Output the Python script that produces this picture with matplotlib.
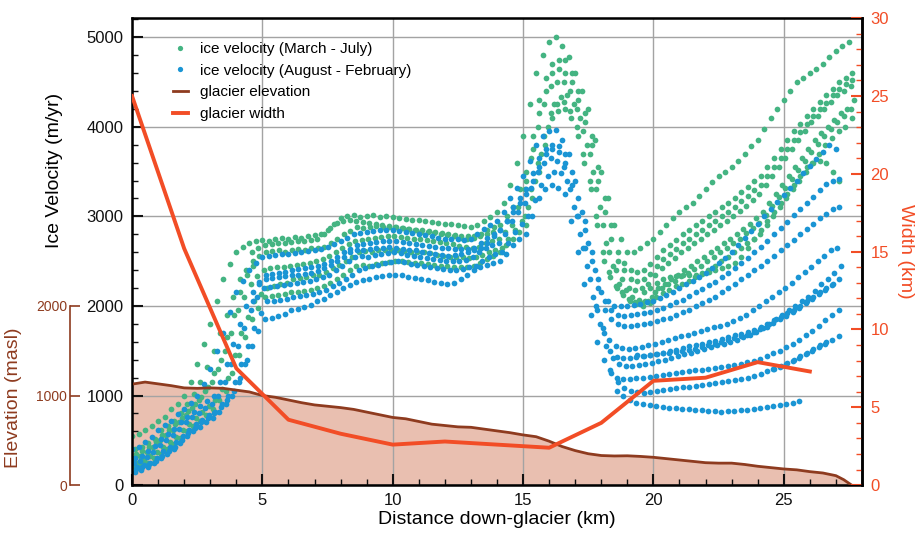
import numpy as np
import matplotlib
matplotlib.use('Agg')
import matplotlib.pyplot as plt
from matplotlib.ticker import MultipleLocator
from matplotlib.lines import Line2D

plt.rcParams['font.family'] = ['Liberation Sans', 'DejaVu Sans']

# ---- data -------------------------------------------------------------
# velocity tracks: values (m/yr) every 0.25 km, from the given start km
STEP = 0.25

spring_starts = [0.0, 0.125, 0.06, 0.19, 0.1, 19.625, 4.6, 15.125, 15.06, 0.15]
spring_1 = [550, 570, 620, 660, 720, 760, 850, 900, 1000, 1150,
            1350, 1580, 1800, 2050, 2300, 2470, 2600, 2660, 2700, 2720,
            2740, 2730, 2750, 2760, 2750, 2770, 2760, 2780, 2790, 2800,
            2850, 2920, 2980, 3000, 3010, 2990, 3000, 3010, 2990, 3000,
            2990, 2980, 2970, 2960, 2960, 2950, 2940, 2930, 2920, 2910,
            2900, 2890, 2880, 2900, 2950, 2990, 3050, 3150, 3350, 3600,
            3900, 4250, 4600, 4800, 4950, 5000, 4900, 4780, 4600, 4400,
            4200, 3850, 3500, 3200, 2900, 2750, 2600, 2600, 2650, 2700,
            2750, 2820, 2900, 2980, 3050, 3100, 3150, 3230, 3300, 3380,
            3450, 3500, 3550, 3620, 3700, 3780, 3850, 3980, 4100, 4200,
            4300, 4400, 4500, 4550, 4600, 4650, 4700, 4780, 4850, 4900,
            4950]
spring_2 = [400, 430, 470, 520, 620, 660, 720, 800, 900, 1020,
            1150, 1320, 1500, 1700, 1900, 2100, 2300, 2400, 2500, 2560,
            2600, 2610, 2620, 2600, 2620, 2640, 2630, 2650, 2650, 2660,
            2700, 2750, 2800, 2840, 2880, 2870, 2880, 2890, 2880, 2880,
            2880, 2870, 2860, 2850, 2850, 2840, 2820, 2810, 2800, 2790,
            2780, 2780, 2780, 2800, 2850, 2880, 2900, 3000, 3100, 3300,
            3500, 3900, 4300, 4550, 4700, 4750, 4750, 4600, 4400, 4150,
            3900, 3550, 3200, 2900, 2600, 2480, 2400, 2380, 2400, 2470,
            2550, 2620, 2680, 2740, 2800, 2850, 2900, 2950, 3000, 3050,
            3100, 3150, 3200, 3270, 3330, 3400, 3450, 3550, 3650, 3750,
            3850, 3950, 4030, 4120, 4200, 4280, 4350, 4420, 4500, 4550,
            4600]
spring_3 = [300, 330, 370, 430, 500, 560, 620, 700, 780, 860,
            950, 1050, 1150, 1300, 1500, 1700, 1950, 2100, 2250, 2330,
            2400, 2420, 2430, 2440, 2450, 2460, 2470, 2480, 2500, 2520,
            2560, 2600, 2650, 2690, 2730, 2740, 2750, 2760, 2770, 2780,
            2780, 2770, 2760, 2750, 2750, 2740, 2720, 2710, 2700, 2690,
            2670, 2660, 2650, 2660, 2700, 2730, 2750, 2820, 2900, 3100,
            3300, 3650, 4000, 4250, 4450, 4500, 4500, 4400, 4200, 3950,
            3700, 3300, 2900, 2600, 2400, 2300, 2200, 2180, 2200, 2250,
            2350, 2420, 2480, 2540, 2600, 2650, 2700, 2750, 2800, 2850,
            2900, 2950, 3000, 3060, 3120, 3180, 3250, 3350, 3450, 3550,
            3650, 3750, 3850, 3950, 4050, 4120, 4200, 4280, 4350, 4400,
            4450]
spring_4 = [250, 280, 320, 370, 420, 480, 540, 610, 680, 750,
            820, 880, 950, 1070, 1200, 1450, 1700, 1880, 2050, 2130,
            2200, 2220, 2240, 2260, 2300, 2310, 2320, 2340, 2350, 2380,
            2420, 2460, 2500, 2550, 2600, 2610, 2600, 2620, 2620, 2620,
            2620, 2610, 2600, 2600, 2600, 2590, 2570, 2560, 2550, 2550,
            2550, 2540, 2550, 2570, 2600, 2620, 2650, 2750, 2850, 2950,
            3100, 3400, 3700, 4000, 4250, 4330, 4350, 4250, 4100, 3800,
            3500, 3100, 2700, 2450, 2250, 2180, 2100, 2070, 2050, 2100,
            2200, 2250, 2300, 2350, 2400, 2450, 2500, 2550, 2600, 2650,
            2700, 2750, 2800, 2860, 2920, 2980, 3050, 3150, 3250, 3350,
            3450, 3550, 3650, 3750, 3850, 3930, 4000, 4080, 4150, 4200,
            4300]
spring_5 = [200, 220, 250, 300, 350, 400, 460, 530, 600, 660,
            720, 780, 850, 950, 1050, 1250, 1450, 1650, 1850, 1980,
            2100, 2110, 2120, 2130, 2150, 2160, 2170, 2180, 2200, 2220,
            2260, 2300, 2350, 2400, 2450, 2460, 2450, 2470, 2480, 2490,
            2500, 2500, 2490, 2480, 2480, 2470, 2460, 2450, 2450, 2440,
            2440, 2440, 2450, 2480, 2520, 2560, 2600, 2680, 2750, 2820,
            2900, 3200, 3500, 3800, 4100, 4180, 4200, 4100, 3900, 3600,
            3300, 2900, 2500, 2320, 2200, 2120, 2050, 2020, 2000, 2030,
            2100, 2140, 2180, 2220, 2250, 2280, 2320, 2360, 2400, 2450,
            2500, 2550, 2600, 2650, 2700, 2750, 2800, 2900, 3000, 3100,
            3200, 3300, 3400, 3500, 3600, 3700, 3800, 3880, 3950, 4000,
            4100]
spring_6 = [2150, 2200, 2260, 2300, 2320, 2330, 2340, 2350, 2350, 2370,
            2380, 2400, 2420, 2450, 2480, 2550, 2650, 2750, 2850, 2950,
            3050, 3150, 3250, 3350, 3450, 3550, 3600, 3620, 3600, 3500,
            3400]
spring_7 = [2600, 2650, 2680, 2690, 2700, 2700, 2710, 2720, 2730, 2740,
            2750, 2800, 2870, 2930, 2950, 2960, 2950, 2940, 2930, 2920,
            2900, 2890, 2880, 2870, 2860, 2850, 2830, 2820, 2810, 2800,
            2790, 2780, 2760, 2750, 2760, 2780, 2800, 2830]
spring_8 = [3400, 3750, 4150, 4400, 4600, 4650, 4600, 4500, 4300, 4050,
            3800, 3400, 3050, 2750, 2500, 2400, 2300, 2280, 2300, 2360,
            2450, 2520, 2580, 2640, 2700, 2750, 2800, 2850, 2900, 2950,
            3000, 3050, 3100, 3170, 3230, 3290, 3350, 3450, 3550, 3650,
            3750, 3850, 3940, 4030, 4120, 4200, 4270, 4350, 4420, 4480,
            4520]
spring_9 = [3000, 3300, 3600, 3900, 4150, 4250, 4280, 4180, 4000, 3700,
            3400, 3000, 2600, 2380, 2220, 2150, 2080, 2040, 2030, 2060,
            2150, 2200, 2240, 2280, 2330, 2370, 2410, 2450, 2500, 2550,
            2600, 2650, 2700, 2750, 2810, 2870, 2930, 3020, 3120, 3220,
            3320, 3420, 3520, 3620, 3720, 3810, 3900, 3980, 4050, 4120,
            4200]
spring_10 = [350, 380, 420, 480, 560, 610, 680, 750, 830, 900,
             980, 1100, 1250, 1400, 1650, 1900, 2150, 2350, 2450]

autumn_starts = [0.0, 0.125, 0.06, 0.19, 0.1, 18.6, 18.375, 4.625, 19.375,
                 17.375, 17.85, 0.15, 24.6]
autumn_1 = [400, 430, 480, 540, 620, 670, 720, 790, 850, 920,
            1000, 1130, 1300, 1500, 1700, 1930, 2150, 2280, 2400, 2480,
            2550, 2560, 2570, 2580, 2580, 2590, 2600, 2610, 2620, 2640,
            2660, 2690, 2720, 2760, 2800, 2810, 2820, 2840, 2850, 2850,
            2850, 2840, 2830, 2810, 2800, 2790, 2780, 2760, 2750, 2750,
            2750, 2740, 2750, 2800, 2860, 2900, 2950, 3050, 3200, 3320,
            3450, 3620, 3800, 3900, 3950, 3960, 3850, 3700, 3400, 3050,
            2700, 2400, 2150, 2050, 2000, 2000, 2000, 2010, 2020, 2040,
            2060, 2090, 2120, 2160, 2200, 2240, 2280, 2320, 2370, 2420,
            2480, 2540, 2600, 2680, 2760, 2840, 2920, 3000, 3080, 3160,
            3240, 3320, 3400, 3480, 3560, 3640, 3720, 3800,
            3750]
autumn_2 = [300, 330, 380, 440, 520, 570, 630, 700, 760, 820,
            880, 940, 1000, 1150, 1350, 1580, 1800, 2000, 2150, 2270,
            2350, 2360, 2370, 2380, 2400, 2410, 2420, 2430, 2450, 2470,
            2500, 2550, 2600, 2640, 2680, 2690, 2700, 2710, 2720, 2720,
            2720, 2710, 2700, 2690, 2680, 2670, 2660, 2650, 2650, 2640,
            2640, 2640, 2650, 2700, 2760, 2800, 2850, 2950, 3100, 3200,
            3300, 3480, 3650, 3750, 3800, 3780, 3700, 3500, 3200, 2850,
            2500, 2200, 1950, 1850, 1800, 1780, 1780, 1790, 1800, 1810,
            1830, 1850, 1870, 1900, 1930, 1960, 2000, 2030, 2070, 2100,
            2150, 2200, 2250, 2300, 2350, 2400, 2450, 2500, 2560, 2620,
            2680, 2740, 2800, 2860, 2920, 2980, 3030, 3080,
            3100]
autumn_3 = [250, 270, 310, 370, 450, 500, 560, 630, 700, 760,
            810, 860, 900, 1000, 1150, 1350, 1550, 1750, 1950, 2100,
            2200, 2210, 2220, 2230, 2250, 2260, 2270, 2280, 2300, 2320,
            2350, 2400, 2450, 2500, 2550, 2560, 2550, 2570, 2580, 2590,
            2600, 2590, 2570, 2560, 2550, 2540, 2520, 2510, 2500, 2500,
            2500, 2510, 2550, 2600, 2650, 2680, 2700, 2800, 2950, 3050,
            3150, 3320, 3500, 3600, 3650, 3620, 3550, 3300, 3000, 2650,
            2300, 2000, 1750, 1620, 1550, 1530, 1520, 1530, 1540, 1560,
            1580, 1600, 1620, 1640, 1660, 1680, 1700, 1720, 1740, 1760,
            1780, 1800, 1830, 1860, 1900, 1950, 2000, 2050, 2100, 2150,
            2200, 2260, 2320, 2380, 2440, 2500, 2560, 2620,
            2650]
autumn_4 = [200, 220, 250, 300, 380, 430, 480, 550, 620, 680,
            730, 780, 820, 900, 1000, 1150, 1350, 1550, 1750, 1920,
            2050, 2060, 2070, 2080, 2100, 2110, 2120, 2130, 2150, 2180,
            2220, 2260, 2300, 2350, 2400, 2420, 2450, 2460, 2480, 2490,
            2500, 2490, 2470, 2460, 2450, 2430, 2420, 2410, 2400, 2400,
            2410, 2430, 2450, 2500, 2550, 2580, 2600, 2700, 2820, 2920,
            3000, 3180, 3350, 3450, 3500, 3480, 3400, 3100, 2800, 2450,
            2100, 1800, 1550, 1420, 1350, 1330, 1330, 1340, 1350, 1360,
            1380, 1400, 1420, 1440, 1460, 1480, 1500, 1520, 1540, 1560,
            1580, 1600, 1620, 1650, 1680, 1710, 1750, 1800, 1850, 1900,
            1950, 2000, 2050, 2100, 2170, 2240, 2300, 2370,
            2450]
autumn_5 = [150, 170, 200, 250, 300, 350, 400, 470, 550, 600,
            650, 700, 750, 820, 900, 1000, 1150, 1350, 1550, 1720,
            1850, 1870, 1890, 1910, 1950, 1970, 1990, 2010, 2050, 2080,
            2120, 2160, 2200, 2230, 2270, 2290, 2300, 2320, 2330, 2340,
            2350, 2340, 2320, 2310, 2300, 2290, 2270, 2260, 2250, 2260,
            2300, 2350, 2400, 2430, 2460, 2480, 2500, 2580, 2680, 2750,
            2800, 3000, 3200, 3300, 3350, 3320, 3250, 2950, 2600, 2250,
            1900, 1600, 1400, 1280, 1200, 1180, 1180, 1190, 1200, 1210,
            1220, 1230, 1240, 1250, 1260, 1270, 1280, 1290, 1300, 1310,
            1320, 1330, 1340, 1350, 1370, 1390, 1410, 1440, 1470, 1500,
            1540, 1580, 1620, 1670, 1720, 1780, 1840, 1900,
            1950]
autumn_6 = [1050, 1000, 950, 920, 900, 890, 880, 870, 860, 860,
            850, 850, 840, 840, 830, 830, 820, 830, 830, 840,
            840, 850, 860, 870, 880, 890, 900, 920, 940]
autumn_7 = [1250, 1150, 1080, 1050, 1040, 1030, 1040, 1050, 1060, 1070,
            1080, 1090, 1100, 1110, 1120, 1130, 1140, 1150, 1160, 1170,
            1180, 1200, 1220, 1240, 1270, 1300, 1330, 1360, 1400, 1440,
            1480, 1520, 1560, 1600]
autumn_8 = [2050, 2250, 2300, 2310, 2320, 2330, 2340, 2350, 2360, 2370,
            2390, 2420, 2460, 2500, 2550, 2600, 2620, 2630, 2640, 2650,
            2650, 2660, 2650, 2640, 2630, 2620, 2600, 2590, 2580, 2570,
            2560, 2570, 2580, 2600, 2620, 2650, 2700, 2780, 2850, 2950,
            3050, 3150, 3250, 3400, 3550, 3700, 3750, 3720, 3600, 3350,
            3000, 2650]
autumn_9 = [1450, 1440, 1450, 1460, 1480, 1500, 1510, 1530, 1550, 1560,
            1580, 1600, 1610, 1630, 1650, 1670, 1690, 1710, 1730, 1760,
            1800, 1840, 1880, 1920, 1960, 2000, 2050, 2100, 2150, 2200,
            2250, 2300]
autumn_10 = [2950, 2600, 2300, 2050, 1950, 1900, 1890, 1900, 1910, 1920,
             1930, 1950, 1980, 2010, 2040, 2070, 2110, 2150, 2190, 2230,
             2270, 2320, 2370, 2420, 2480, 2540, 2600, 2660, 2730, 2800,
             2870, 2940, 3010, 3080, 3150, 3220, 3290, 3360, 3400, 3420]
autumn_11 = [1950, 1700, 1500, 1430, 1420, 1420, 1430, 1440, 1450, 1460,
             1470, 1480, 1490, 1500, 1510, 1520, 1540, 1560, 1580, 1600,
             1620, 1640, 1660, 1680, 1710, 1740, 1770, 1810, 1850, 1890,
             1930, 1980, 2030, 2080, 2130, 2180, 2230]
autumn_12 = [180, 200, 230, 270, 330, 380, 430, 500, 580, 640,
             700, 750, 800, 870, 950, 1050, 1200, 1400]
autumn_13 = [1300, 1320, 1350, 1380, 1420, 1460, 1500, 1540, 1580, 1620,
             1660]

spring_tracks = [spring_1, spring_2, spring_3, spring_4, spring_5,
                 spring_6, spring_7, spring_8, spring_9, spring_10]
autumn_tracks = [autumn_1, autumn_2, autumn_3, autumn_4, autumn_5,
                 autumn_6, autumn_7, autumn_8, autumn_9, autumn_10,
                 autumn_11, autumn_12, autumn_13]

# glacier surface elevation (masl)
elev_km = [0, 0.5, 1, 1.5, 2, 2.5, 3, 3.5, 4, 4.5, 5, 5.5, 6, 6.5, 7, 7.5, 8, 8.5,
           9, 9.5, 10, 10.5, 11, 11.5, 12, 12.5, 13, 13.5, 14, 14.5, 15, 15.5, 16,
           16.5, 17, 17.5, 18, 18.5, 19, 19.5, 20, 20.5, 21, 21.5, 22, 22.5, 23,
           23.5, 24, 24.5, 25, 25.5, 26, 26.5, 27, 27.3, 27.6]
elev = [1127, 1150, 1130, 1110, 1085, 1080, 1085, 1080, 1060, 1040,
        1000, 980, 950, 920, 895, 880, 865, 845, 815, 785,
        755, 740, 710, 680, 665, 650, 645, 625, 605, 585,
        560, 540, 490, 430, 385, 350, 330, 325, 327, 320,
        310, 295, 280, 265, 250, 245, 245, 230, 210, 195,
        180, 170, 150, 135, 105, 60, 0]

# glacier width (km)
width_km = [0, 2, 4, 6, 8, 10, 12, 14, 16, 18, 20, 22, 24, 26]
width = [25, 15.2, 7.5, 4.2, 3.3, 2.6, 2.8, 2.6, 2.4, 4.0, 6.7, 6.9, 7.9, 7.3]

# ---- style --------------------------------------------------------------
GREEN = '#44b482'
BLUE = '#1a95d4'
BROWN = '#8e3b1f'
FILL = '#e9bfb0'
RED = '#f24d26'

fig = plt.figure(figsize=(9.17, 5.36), dpi=100)
ax = fig.add_axes([0.144, 0.095, 0.796, 0.871])

ax.fill_between(elev_km, elev, 0, color=FILL, lw=0, zorder=0.3)

for start, vals in zip(spring_starts, spring_tracks):
    x = start + STEP * np.arange(len(vals))
    ax.scatter(x, vals, s=17, color=GREEN, lw=0, zorder=2)
for start, vals in zip(autumn_starts, autumn_tracks):
    x = start + STEP * np.arange(len(vals))
    ax.scatter(x, vals, s=17, color=BLUE, lw=0, zorder=2)

ax.plot(elev_km, elev, color=BROWN, lw=2, zorder=3)

ax.set_xlim(0, 28)
ax.set_ylim(0, 5212)
ax.xaxis.set_major_locator(MultipleLocator(5))
ax.xaxis.set_minor_locator(MultipleLocator(1))
ax.yaxis.set_major_locator(MultipleLocator(1000))
ax.yaxis.set_minor_locator(MultipleLocator(200))
ax.grid(True, color='#a3a3a3', lw=1)
ax.set_axisbelow(True)
ax.tick_params(which='both', direction='in', top=False, right=False,
               labelsize=12, colors='#111111', width=1.5)
ax.tick_params(which='major', length=8, pad=6)
ax.tick_params(which='minor', length=4, width=1)
for s in ax.spines.values():
    s.set_linewidth(1.8)
ax.set_xlabel('Distance down-glacier (km)', fontsize=14, labelpad=2)
ax.set_ylabel('Ice Velocity (m/yr)', fontsize=14)
ax.yaxis.set_label_coords(-0.094, 0.675)

# width axis on the right
axw = ax.twinx()
axw.plot(width_km, width, color=RED, lw=2.8, zorder=4)
axw.set_ylim(0, 30)
axw.yaxis.set_major_locator(MultipleLocator(5))
axw.yaxis.set_minor_locator(MultipleLocator(1))
axw.tick_params(which='both', direction='in', colors=RED, labelsize=12, width=1.5)
axw.tick_params(which='major', length=8, pad=6)
axw.tick_params(which='minor', length=4, width=1)
axw.spines['right'].set_linewidth(1.8)
axw.set_ylabel('Width (km)', fontsize=14, color=RED, rotation=270, labelpad=18)

# elevation axis (same scale as velocity, 0-2000 masl)
axe = ax.twinx()
axe.set_ylim(ax.get_ylim())
for k in ['top', 'bottom', 'right']:
    axe.spines[k].set_visible(False)
axe.spines['left'].set_visible(True)
axe.spines['left'].set_position(('axes', -0.085))
axe.spines['left'].set_bounds(0, 2000)
axe.spines['left'].set_color(BROWN)
axe.spines['left'].set_linewidth(1.2)
axe.yaxis.set_ticks_position('left')
axe.yaxis.set_label_position('left')
axe.set_yticks([0, 1000, 2000])
axe.tick_params(direction='in', length=7, width=1.2, colors=BROWN, labelsize=10, pad=2)
axe.set_ylabel('Elevation (masl)', fontsize=14, color=BROWN)
axe.yaxis.set_label_coords(-0.151, 0.186)

handles = [
    Line2D([], [], marker='o', ls='none', ms=3.8, color=GREEN, mew=0),
    Line2D([], [], marker='o', ls='none', ms=3.8, color=BLUE, mew=0),
    Line2D([], [], color=BROWN, lw=2),
    Line2D([], [], color=RED, lw=2.8),
]
labels = ['ice velocity (March - July)', 'ice velocity (August - February)',
          'glacier elevation', 'glacier width']
axw.legend(handles, labels, loc='upper left', bbox_to_anchor=(0.045, 0.965),
           frameon=False, fontsize=11, borderpad=0, handlelength=1.0,
           handletextpad=0.8, labelspacing=0.5)

fig.savefig('out.png', dpi=100)
